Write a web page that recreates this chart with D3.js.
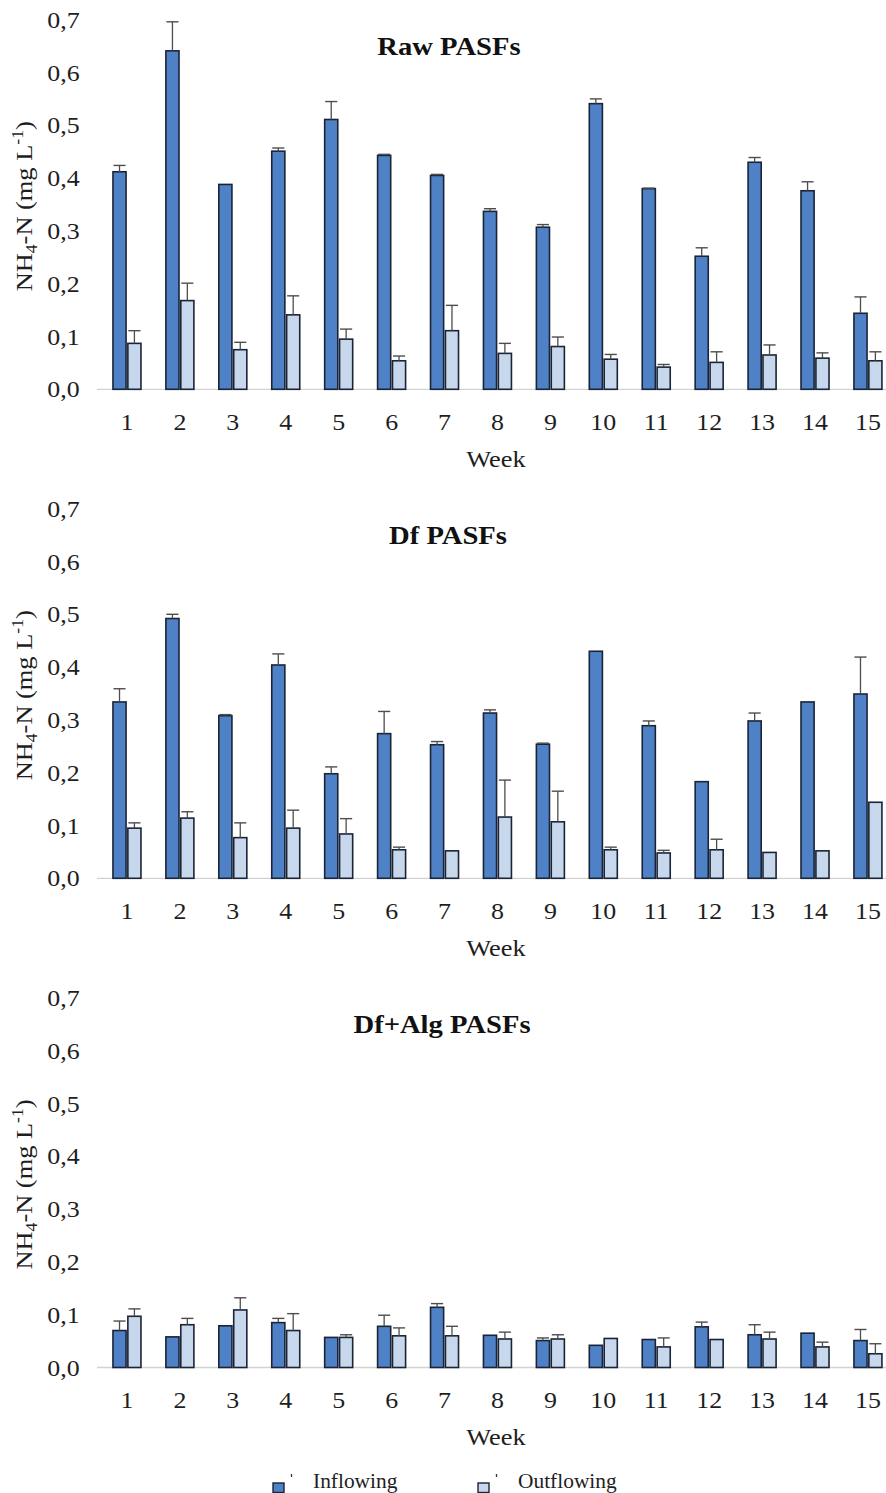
<!DOCTYPE html>
<html>
<head>
<meta charset="utf-8">
<script src="https://cdn.jsdelivr.net/npm/d3@7"></script>
<style>
  html, body { margin: 0; padding: 0; background: #ffffff; }
  svg { display: block; }
</style>
</head>
<body>
<svg id="chart" width="886" height="1493"></svg>
<script>
// ---- data ---------------------------------------------------------------
const weeks = ["1", "2", "3", "4", "5", "6", "7", "8", "9", "10", "11", "12", "13", "14", "15"];
const seriesNames = ["Inflowing", "Outflowing"];
const panelTitles = ["Raw PASFs", "Df PASFs", "Df+Alg PASFs"];
const yTicks = [0, 0.1, 0.2, 0.3, 0.4, 0.5, 0.6, 0.7];

// NH4-N means (mg L-1) and standard deviations per week
const rawInflow     = [0.412, 0.641, 0.388, 0.451, 0.511, 0.443, 0.405, 0.337, 0.307, 0.541, 0.380, 0.252, 0.430, 0.376, 0.144];
const rawInflowSd   = [0.012, 0.055, 0.000, 0.006, 0.034, 0.002, 0.002, 0.005, 0.005, 0.009, 0.001, 0.016, 0.009, 0.017, 0.031];
const rawOutflow    = [0.087, 0.168, 0.075, 0.141, 0.095, 0.054, 0.111, 0.068, 0.081, 0.057, 0.042, 0.051, 0.065, 0.059, 0.054];
const rawOutflowSd  = [0.024, 0.033, 0.014, 0.036, 0.019, 0.009, 0.048, 0.019, 0.018, 0.009, 0.005, 0.020, 0.019, 0.010, 0.017];

const dfInflow      = [0.334, 0.492, 0.308, 0.404, 0.198, 0.274, 0.253, 0.313, 0.254, 0.430, 0.289, 0.183, 0.298, 0.334, 0.349];
const dfInflowSd    = [0.025, 0.008, 0.002, 0.021, 0.013, 0.042, 0.006, 0.006, 0.002, 0.000, 0.009, 0.000, 0.015, 0.000, 0.070];
const dfOutflow     = [0.095, 0.114, 0.077, 0.095, 0.084, 0.054, 0.052, 0.116, 0.107, 0.054, 0.048, 0.054, 0.049, 0.052, 0.144];
const dfOutflowSd   = [0.010, 0.012, 0.028, 0.034, 0.029, 0.005, 0.000, 0.070, 0.058, 0.005, 0.005, 0.020, 0.000, 0.000, 0.000];

const algInflow     = [0.070, 0.058, 0.079, 0.085, 0.057, 0.078, 0.114, 0.061, 0.051, 0.042, 0.053, 0.077, 0.062, 0.065, 0.051];
const algInflowSd   = [0.018, 0.000, 0.000, 0.008, 0.000, 0.021, 0.007, 0.000, 0.005, 0.000, 0.000, 0.009, 0.019, 0.000, 0.021];
const algOutflow    = [0.097, 0.081, 0.109, 0.070, 0.057, 0.060, 0.060, 0.054, 0.054, 0.055, 0.039, 0.053, 0.054, 0.039, 0.026];
const algOutflowSd  = [0.014, 0.012, 0.023, 0.032, 0.005, 0.015, 0.018, 0.013, 0.008, 0.000, 0.017, 0.000, 0.013, 0.009, 0.019];

// ---- layout -------------------------------------------------------------
const FONT = "'Liberation Serif', 'Times New Roman', Times, serif";
const TEXT = "#1e1e1e";
const fillColor = { Inflowing: "#4f81c6", Outflowing: "#c7d7ec" };
const barStroke = "#1b2436";
const errColor = "#4d4d4d";

const panelBaselines = [389.3, 878.3, 1367.5];
const titleCenters = [449, 448, 442];
const pxPerUnit = 528;

const svg = d3.select("#chart");
const locale = d3.formatLocale({ decimal: ",", thousands: ".", grouping: [3], currency: ["", ""] });
const fmt = locale.format(".1f");

const x = d3.scaleBand().domain(weeks).range([100.5, 894.4]);
const sub = d3.scaleBand().domain(seriesNames).range([-14, 14]).paddingInner(0.12);

const panels = [
  { title: panelTitles[0], inflow: rawInflow, inflowSd: rawInflowSd, outflow: rawOutflow, outflowSd: rawOutflowSd },
  { title: panelTitles[1], inflow: dfInflow,  inflowSd: dfInflowSd,  outflow: dfOutflow,  outflowSd: dfOutflowSd },
  { title: panelTitles[2], inflow: algInflow, inflowSd: algInflowSd, outflow: algOutflow, outflowSd: algOutflowSd }
];

panels.forEach((p, k) => {
  const base = panelBaselines[k];
  const y = d3.scaleLinear().domain([0, 0.7]).range([base, base - 0.7 * pxPerUnit]);
  const g = svg.append("g").attr("class", "panel");

  // category axis line
  g.append("line")
    .attr("x1", 97).attr("x2", 886)
    .attr("y1", y(0)).attr("y2", y(0))
    .attr("stroke", "#d2d2d2").attr("stroke-width", 1.3);

  // value axis labels
  const ya = g.append("g")
    .attr("transform", "translate(97,0)")
    .call(d3.axisLeft(y).tickValues(yTicks).tickFormat(fmt).tickSize(0).tickPadding(16));
  ya.select(".domain").remove();
  ya.selectAll("text")
    .attr("font-family", FONT).attr("font-size", 24).attr("fill", TEXT)
    .attr("transform", "scale(1.08,1)");

  // week labels
  const xa = g.append("g")
    .attr("transform", `translate(0,${y(0)})`)
    .call(d3.axisBottom(x).tickSize(0));
  xa.select(".domain").remove();
  xa.selectAll("text")
    .attr("y", 41).attr("dy", 0)
    .attr("font-family", FONT).attr("font-size", 24).attr("fill", TEXT)
    .attr("transform", "scale(1.08,1)");

  const rows = weeks.flatMap((w, i) => [
    { week: w, series: "Inflowing",  value: p.inflow[i],  sd: p.inflowSd[i] },
    { week: w, series: "Outflowing", value: p.outflow[i], sd: p.outflowSd[i] }
  ]);
  const cx = d => x(d.week) + x.bandwidth() / 2 + sub(d.series);

  // bars
  g.append("g").selectAll("rect").data(rows).join("rect")
    .attr("x", d => cx(d))
    .attr("y", d => y(d.value))
    .attr("width", sub.bandwidth())
    .attr("height", d => y(0) - y(d.value))
    .attr("fill", d => fillColor[d.series])
    .attr("stroke", barStroke)
    .attr("stroke-width", 1.6);

  // error bars (upper whisker)
  const eb = g.append("g").selectAll("g").data(rows.filter(d => d.sd > 0)).join("g");
  eb.append("line")
    .attr("x1", d => cx(d) + sub.bandwidth() / 2)
    .attr("x2", d => cx(d) + sub.bandwidth() / 2)
    .attr("y1", d => y(d.value))
    .attr("y2", d => y(d.value + d.sd))
    .attr("stroke", errColor).attr("stroke-width", 1.3);
  eb.append("line")
    .attr("x1", d => cx(d) + 0.5)
    .attr("x2", d => cx(d) + sub.bandwidth() - 0.5)
    .attr("y1", d => y(d.value + d.sd))
    .attr("y2", d => y(d.value + d.sd))
    .attr("stroke", errColor).attr("stroke-width", 1.4);

  // panel title
  g.append("text")
    .attr("transform", `translate(${titleCenters[k]},${base - 334.5}) scale(1.1,1)`)
    .attr("text-anchor", "middle")
    .attr("font-family", FONT).attr("font-size", 26).attr("font-weight", "bold")
    .attr("fill", "#111")
    .text(p.title);

  // x axis title
  g.append("text")
    .attr("transform", `translate(496,${base + 77.5}) scale(1.1,1)`)
    .attr("text-anchor", "middle")
    .attr("font-family", FONT).attr("font-size", 24).attr("fill", TEXT)
    .text("Week");

  // y axis title: NH4-N (mg L-1)
  const yt = g.append("text")
    .attr("transform", `translate(32,${base - 183}) rotate(-90) scale(1.1,1)`)
    .attr("text-anchor", "middle")
    .attr("font-family", FONT).attr("font-size", 24).attr("fill", TEXT);
  yt.append("tspan").text("NH");
  yt.append("tspan").attr("font-size", 16).attr("dy", 5).text("4");
  yt.append("tspan").attr("dy", -5).text("-N (mg L");
  yt.append("tspan").attr("font-size", 16).attr("dy", -9).text("-1");
  yt.append("tspan").attr("dy", 9).text(")");
});

// ---- legend -------------------------------------------------------------
const legendItems = [
  { name: seriesNames[0], x: 273 },
  { name: seriesNames[1], x: 478 }
];
const lg = svg.append("g").selectAll("g").data(legendItems).join("g")
  .attr("transform", d => `translate(${d.x},1483)`);
lg.append("rect")
  .attr("width", 11).attr("height", 9.5)
  .attr("fill", d => fillColor[d.name])
  .attr("stroke", barStroke).attr("stroke-width", 1.4);
lg.append("line")
  .attr("x1", 18.5).attr("x2", 18.5).attr("y1", -9).attr("y2", -6)
  .attr("stroke", "#333").attr("stroke-width", 1.3);
lg.append("text")
  .attr("transform", "translate(40,5) scale(1.02,1)")
  .attr("font-family", FONT).attr("font-size", 21).attr("fill", TEXT)
  .text(d => d.name);
</script>
</body>
</html>
